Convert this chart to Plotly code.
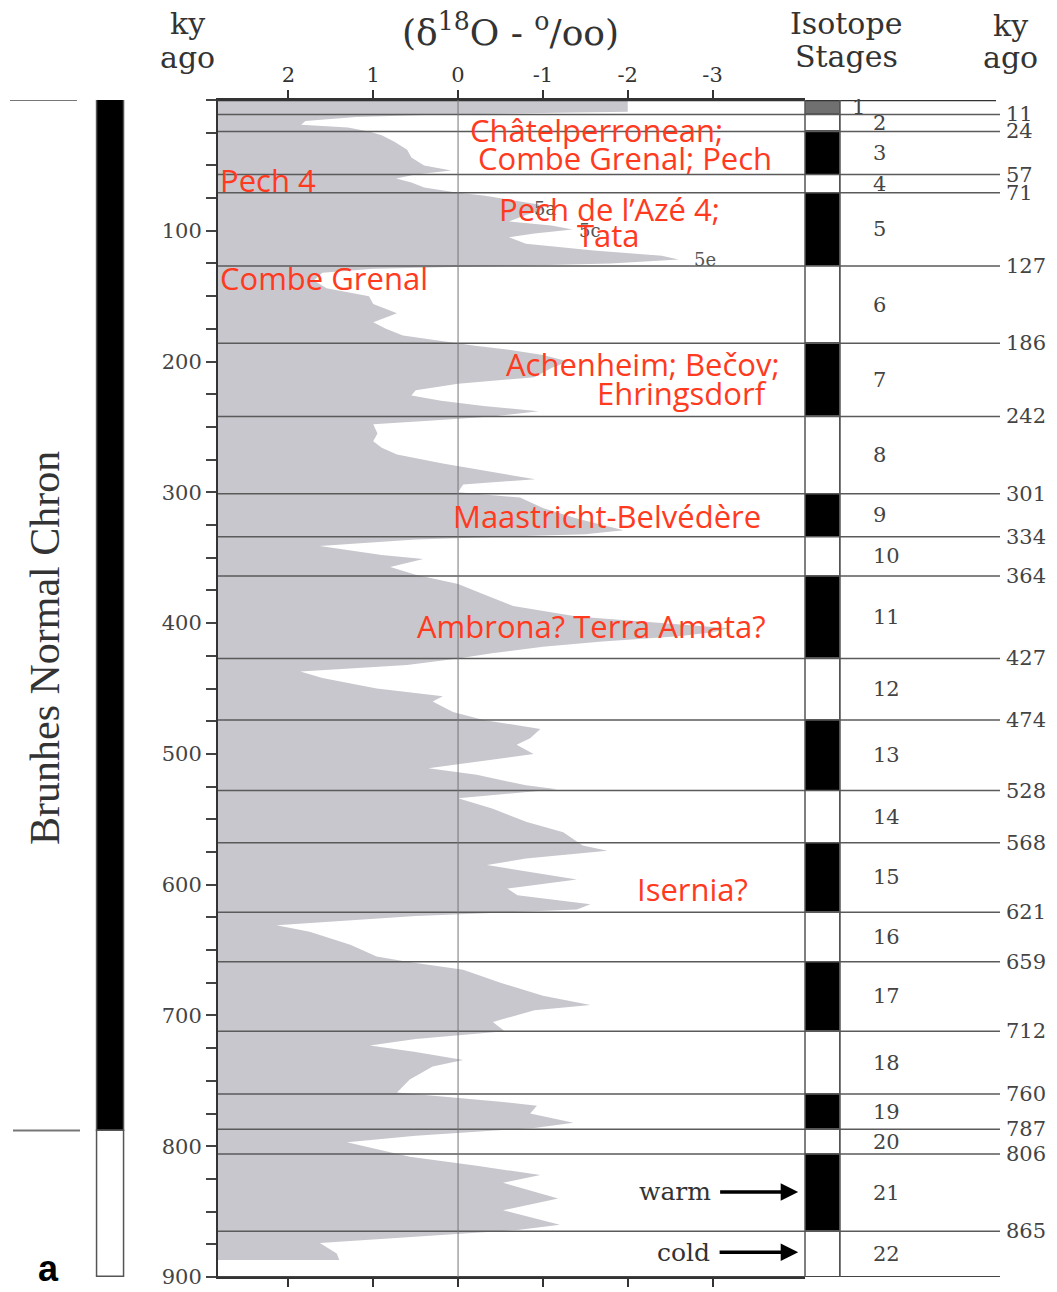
import plotly.graph_objects as go

W, H = 1057, 1292

# ---------------- data ----------------
AGE_KY = [0, 9, 11, 13, 16, 19, 21, 24, 27, 32, 38, 44, 50, 54, 57, 60, 63, 67, 71,
          73, 76, 80, 84, 88, 93, 96, 99, 102, 105, 110, 115, 119, 122, 125, 127,
          129, 132, 138, 144, 150, 156, 163, 170, 175, 180, 185,
          188, 191, 195, 200, 205, 212, 217, 222, 226, 230, 234, 238, 242,
          245, 248, 255, 261, 266, 271, 278, 286, 290, 294, 300,
          304, 312, 320, 325, 329, 332, 334,
          336, 341, 348, 351, 357, 363,
          370, 378, 387, 395, 400, 404, 407, 410, 414, 418, 423, 427,
          432, 437, 442, 450, 456, 460, 468, 474,
          481, 488, 493, 500, 506, 511, 516, 524, 527, 531,
          534, 542, 552, 560, 565,
          570, 574, 580, 585, 596, 603, 608, 615, 619,
          624, 631, 636, 646, 655, 659,
          665, 675, 685, 692, 696, 705, 712,
          718, 723, 728, 734, 739, 749, 759,
          766, 769, 775, 782, 786,
          792, 797, 803, 808,
          815, 822, 828, 840, 849, 860, 864,
          869, 874, 882, 887]

D18O = [-2.0, -2.0, 0.2, 1.2, 1.8, 1.85, 1.3, 1.05, 0.9, 0.75, 0.6, 0.55, 0.4, 0.08, 0.5, 0.73, 0.55, 0.4, 0.0,
        -0.3, -0.6, -0.95, -1.0, -0.8, -0.6, -1.1, -1.35, -0.9, -0.6, -0.8, -1.6, -2.4, -2.6, -1.8, -0.5,
        1.0, 1.6, 1.7, 1.55, 1.05, 1.0, 0.72, 1.0, 0.85, 0.65, 0.1,
        -0.2, -0.6, -1.0, -1.3, -1.1, -0.9, 0.0, 0.5, 0.55, 0.2, -0.3, -0.95, -0.4,
        0.3, 1.0, 0.95, 1.0, 0.9, 0.72, 0.18, -0.53, -0.91, -0.06, 0.0,
        -0.73, -1.0, -1.4, -1.7, -1.95, -1.5, -0.5,
        0.5, 1.63, 0.9, 0.41, 0.8, 0.5,
        0.0, -0.3, -0.65, -1.4, -2.4, -3.2, -3.0, -2.6, -1.7, -1.0, -0.4, 0.0,
        0.6, 1.86, 1.6, 0.96, 0.18, 0.3, 0.06, -0.3,
        -0.97, -0.85, -0.69, -0.89, -0.22, 0.35, -0.22, -0.8, -1.17, -0.5,
        0.0, -0.41, -0.81, -1.24, -1.35,
        -1.47, -1.76, -0.8, -0.34, -1.4, -0.58, -0.7, -1.56, -1.4,
        0.5, 2.14, 1.75, 1.27, 0.96, 0.6,
        -0.06, -0.5, -1.0, -1.56, -0.9, -0.41, -0.55,
        0.5, 1.04, 0.5, -0.06, 0.3, 0.57, 0.72,
        -0.5, -0.93, -0.85, -1.36, -0.9,
        0.5, 1.31, 0.9, 0.57,
        -0.22, -0.97, -0.53, -1.18, -0.53, -1.2, -0.7,
        0.5, 1.63, 1.43, 1.4]

STAGE_BOUNDS = [0, 11, 24, 57, 71, 127, 186, 242, 301, 334, 364, 427, 474, 528,
                568, 621, 659, 712, 760, 787, 806, 865, 900]
STAGE_NUMBERS = [str(i) for i in range(1, 23)]
BOUNDARY_LABELS = ["11", "24", "57", "71", "127", "186", "242", "301", "334", "364",
                   "427", "474", "528", "568", "621", "659", "712", "760", "787",
                   "806", "865"]

Y_TICKS = list(range(0, 901, 25))
Y_TICK_LABELS = [str(v) if (v % 100 == 0 and v > 0) else "" for v in Y_TICKS]
X_TICKS = [2, 1, 0, -1, -2, -3]
X_TICK_LABELS = ["2", "1", "0", "-1", "-2", "-3"]

BRUNHES_END = 788

SITE_TEXT = ["Châtelperronean;", "Combe Grenal; Pech", "Pech 4", "Pech de l’Azé 4;", "Tata",
             "Combe Grenal", "Achenheim; Bečov;", "Ehringsdorf", "Maastricht-Belvédère",
             "Ambrona? Terra Amata?", "Isernia?"]
SITE_X = [-0.12, -0.21, 2.83, -1.79, -1.77, 2.83, -3.82, -3.66, -1.75, -1.57, -2.76]
SITE_Y = [23, 44.5, 61, 83, 103.5, 136, 202, 224, 318, 402, 603]
SITE_ANCHOR = ["left", "left", "left", "center", "center", "left", "right", "right",
               "center", "center", "center"]

SUBSTAGE_TEXT = ["5a", "5c", "5e"]
SUBSTAGE_X = [-1.03, -1.56, -2.91]
SUBSTAGE_Y = [83, 100, 122]

CLIMATE_WORDS = ["warm", "cold"]
CLIMATE_Y = [835, 881]
CLIMATE_WORD_CENTER = [-2.553, -2.659]
ARROW_TIP = -4.01

# ---------------- helpers ----------------
X_LEFT, X_RIGHT = 2.83, -4.09


def px(xp):
    return xp / W


def py(yp):
    return 1 - yp / H


SERIF = "DejaVu Serif"
RED = "#FF3A1E"

fig = go.Figure()

# gray isotope curve area
fig.add_trace(go.Scatter(
    x=[X_LEFT] + D18O + [X_LEFT],
    y=[AGE_KY[0]] + AGE_KY + [AGE_KY[-1]],
    mode="lines", fill="toself", fillcolor="#c7c7cd",
    line=dict(width=0, color="#c7c7cd"), hoverinfo="skip",
    xaxis="x", yaxis="y", showlegend=False))

# isotope stage column
starts = STAGE_BOUNDS[:-1]
lengths = [b - a for a, b in zip(STAGE_BOUNDS[:-1], STAGE_BOUNDS[1:])]
stage_colors = []
for s in STAGE_NUMBERS:
    n = int(s)
    if n == 1:
        stage_colors.append("#707070")
    elif n % 2 == 1:
        stage_colors.append("#000000")
    else:
        stage_colors.append("#ffffff")
fig.add_trace(go.Bar(
    x=[0] * len(starts), y=lengths, base=starts, width=[1] * len(starts),
    marker=dict(color=stage_colors, line=dict(color="#555555", width=1)),
    xaxis="x2", yaxis="y", showlegend=False, hoverinfo="skip"))

# Brunhes chron bar
fig.add_trace(go.Bar(
    x=[0, 0], y=[BRUNHES_END, 900 - BRUNHES_END], base=[0, BRUNHES_END], width=[1, 1],
    marker=dict(color=["#000000", "#ffffff"], line=dict(color="#555555", width=1.5)),
    xaxis="x3", yaxis="y", showlegend=False, hoverinfo="skip"))

shapes = []
# stage boundary lines
for b in STAGE_BOUNDS[1:-1]:
    shapes.append(dict(type="line", xref="paper", yref="y", x0=px(218), x1=px(1000),
                       y0=b, y1=b, line=dict(color="#5a5a5a", width=1.5), layer="above"))
# top and bottom frame lines
shapes.append(dict(type="line", xref="paper", yref="y", x0=px(218), x1=px(996),
                   y0=0, y1=0, line=dict(color="#333333", width=2.5), layer="above"))
shapes.append(dict(type="line", xref="paper", yref="y", x0=px(218), x1=px(1000),
                   y0=900, y1=900, line=dict(color="#444444", width=2), layer="above"))
# zero line
shapes.append(dict(type="line", xref="x", yref="y", x0=0, x1=0, y0=0, y1=900,
                   line=dict(color="#777777", width=1), layer="above"))
# isotope column edges
for xe in (805, 840):
    shapes.append(dict(type="line", xref="paper", yref="y", x0=px(xe), x1=px(xe),
                       y0=0, y1=900, line=dict(color="#555555", width=1.5), layer="above"))
# Brunhes marker lines
shapes.append(dict(type="line", xref="paper", yref="y", x0=px(10), x1=px(77),
                   y0=0, y1=0, line=dict(color="#777777", width=2)))
shapes.append(dict(type="line", xref="paper", yref="y", x0=px(13), x1=px(80),
                   y0=BRUNHES_END, y1=BRUNHES_END, line=dict(color="#777777", width=2)))

ann = []


def paper_text(text, xp, yp, size, family=SERIF, color="#333333", **kw):
    d = dict(text=text, xref="paper", yref="paper", x=px(xp), y=py(yp),
             xanchor=kw.pop("xanchor", "center"), yanchor="middle", showarrow=False,
             font=dict(family=family, size=size, color=color))
    d.update(kw)
    ann.append(d)


# headers
paper_text("ky", 187, 24, 30)
paper_text("ago", 187, 58, 30)
paper_text("(δ<sup>18</sup>O - <sup>o</sup>/oo)", 510, 30, 36)
paper_text("Isotope", 846, 24, 30)
paper_text("Stages", 846, 56, 30)
paper_text("ky", 1010, 25, 30)
paper_text("ago", 1010, 58, 30)
paper_text("Brunhes Normal Chron", 45, 648, 42, family="Liberation Serif", textangle=-90)
paper_text("<b>a</b>", 48, 1268, 36, family="Liberation Sans", color="#000000")

# stage numbers
for i, s in enumerate(STAGE_NUMBERS):
    mid = (STAGE_BOUNDS[i] + STAGE_BOUNDS[i + 1]) / 2
    ann.append(dict(text=s, xref="paper", yref="y", x=px(850 if s == "1" else 871), y=mid,
                    xanchor="left", yanchor="middle", showarrow=False,
                    font=dict(family=SERIF, size=21, color="#444444")))
# boundary ages on right
for b, lab in zip(STAGE_BOUNDS[1:-1], BOUNDARY_LABELS):
    ann.append(dict(text=lab, xref="paper", yref="y", x=px(1004), y=b,
                    xanchor="left", yanchor="middle", showarrow=False,
                    font=dict(family=SERIF, size=21, color="#444444")))

# substage labels
for t, xv, yv in zip(SUBSTAGE_TEXT, SUBSTAGE_X, SUBSTAGE_Y):
    ann.append(dict(text=t, xref="x", yref="y", x=xv, y=yv, xanchor="center",
                    yanchor="middle", showarrow=False,
                    font=dict(family=SERIF, size=18, color="#555555")))

# site labels (red)
for t, xv, yv, a in zip(SITE_TEXT, SITE_X, SITE_Y, SITE_ANCHOR):
    ann.append(dict(text=t, xref="x", yref="y", x=xv, y=yv, xanchor=a,
                    yanchor="middle", showarrow=False,
                    font=dict(family="Open Sans", size=31, color=RED)))

# warm / cold with arrows pointing at the stage column
for word, yv, xc in zip(CLIMATE_WORDS, CLIMATE_Y, CLIMATE_WORD_CENTER):
    ann.append(dict(text=word, xref="x", yref="y", x=ARROW_TIP, y=yv, ax=xc, ay=yv,
                    axref="x", ayref="y", showarrow=True, arrowhead=2, arrowsize=1,
                    arrowwidth=3.5, arrowcolor="#000000", standoff=0, startstandoff=8,
                    font=dict(family=SERIF, size=25, color="#333333")))

fig.update_layout(
    width=W, height=H,
    margin=dict(l=0, r=0, t=0, b=0, autoexpand=False),
    paper_bgcolor="white", plot_bgcolor="white",
    barmode="overlay", bargap=0,
    showlegend=False,
    xaxis=dict(domain=[px(218), px(805)], range=[X_LEFT, X_RIGHT], side="top", anchor="y",
               showline=True, linecolor="#333333", linewidth=2, mirror="ticks",
               ticks="outside", ticklen=8, tickwidth=1.5, tickcolor="#333333",
               tickvals=X_TICKS, ticktext=X_TICK_LABELS,
               tickfont=dict(family=SERIF, size=21, color="#333333"),
               showgrid=False, zeroline=False, fixedrange=True),
    yaxis=dict(domain=[py(1277), py(100)], range=[900, 0], anchor="x",
               showline=True, linecolor="#333333", linewidth=2,
               ticks="outside", ticklen=10, tickwidth=2, tickcolor="#444444",
               tickvals=Y_TICKS, ticktext=Y_TICK_LABELS,
               tickfont=dict(family=SERIF, size=21, color="#444444"),
               showgrid=False, zeroline=False, fixedrange=True),
    yaxis2=dict(overlaying="y", anchor="x", side="left", range=[900, 0],
                ticks="inside", ticklen=12, tickwidth=2, tickcolor="#444444",
                tickvals=Y_TICKS, showticklabels=False, showline=False,
                showgrid=False, zeroline=False, fixedrange=True),
    xaxis2=dict(domain=[px(805), px(840)], range=[-0.5, 0.5], anchor="y", visible=False,
                fixedrange=True),
    xaxis3=dict(domain=[px(94.3), px(126.7)], range=[-0.6, 0.6], anchor="y", visible=False,
                fixedrange=True),
    shapes=shapes,
    annotations=ann,
)

fig.write_html("out.html", config={"displayModeBar": False},
               post_script="document.body.style.margin='0px';")
